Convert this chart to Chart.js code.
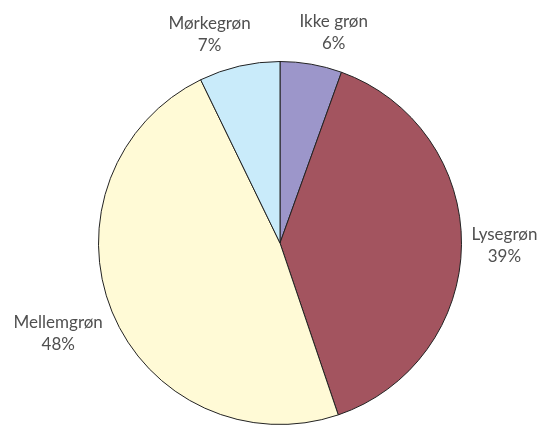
<!DOCTYPE html>
<html>
<head>
<meta charset="utf-8">
<script src="https://cdn.jsdelivr.net/npm/chart.js@4"></script>
<style>
  html, body { margin: 0; padding: 0; background: #fff; }
  #wrap { width: 539px; height: 426px; }
</style>
</head>
<body>
<div id="wrap"><canvas id="chart" width="539" height="426"></canvas></div>
<script>
const categories = ["Ikke grøn", "Lysegrøn", "Mellemgrøn", "Mørkegrøn"];
const values = [5.5, 39.3, 48.0, 7.2];
const colors = ["#9C96CA", "#A3545F", "#FFFAD6", "#C9EBFA"];

// outside labels: name on first line, rounded percent on second
const outsideLabels = {
    id: "outsideLabels",
    afterDatasetsDraw(chart) {
        const ctx = chart.ctx;
        const meta = chart.getDatasetMeta(0);
        const total = values.reduce((a, b) => a + b, 0);
        ctx.save();
        ctx.font = "17px Lato, 'Open Sans', sans-serif";
        ctx.fillStyle = "#505050";
        ctx.textAlign = "center";
        ctx.textBaseline = "middle";
        meta.data.forEach((arc, i) => {
            const mid = (arc.startAngle + arc.endAngle) / 2;
            const r = arc.outerRadius + 10;
            const ax = arc.x + Math.cos(mid) * r;
            const ay = arc.y + Math.sin(mid) * r;
            const lines = [categories[i], Math.round(values[i] / total * 100) + "%"];
            const w = Math.max(...lines.map(l => ctx.measureText(l).width));
            const h = 44;
            let cx = ax, cy = ay;
            const c = Math.cos(mid), s = Math.sin(mid);
            if (Math.abs(c) > 0.5) {
                cx += Math.sign(c) * w / 2;
                cy += s * (h / 2 + 25);
            } else {
                cx += c * w + Math.sign(c) * 9;
                cy += s * h / 2;
            }
            ctx.fillText(lines[0], cx, cy - 11);
            ctx.fillText(lines[1], cx, cy + 11);
        });
        ctx.restore();
    }
};

new Chart(document.getElementById("chart"), {
    type: "pie",
    data: {
        labels: categories,
        datasets: [{
            data: values,
            backgroundColor: colors,
            borderColor: "#222",
            borderWidth: 1,
        }],
    },
    options: {
        responsive: false,
        animation: false,
        layout: { padding: { top: 61, bottom: 1, left: 97, right: 76 } },
        plugins: {
            legend: { display: false },
            tooltip: { enabled: false },
        },
    },
    plugins: [outsideLabels],
});
</script>
</body>
</html>
